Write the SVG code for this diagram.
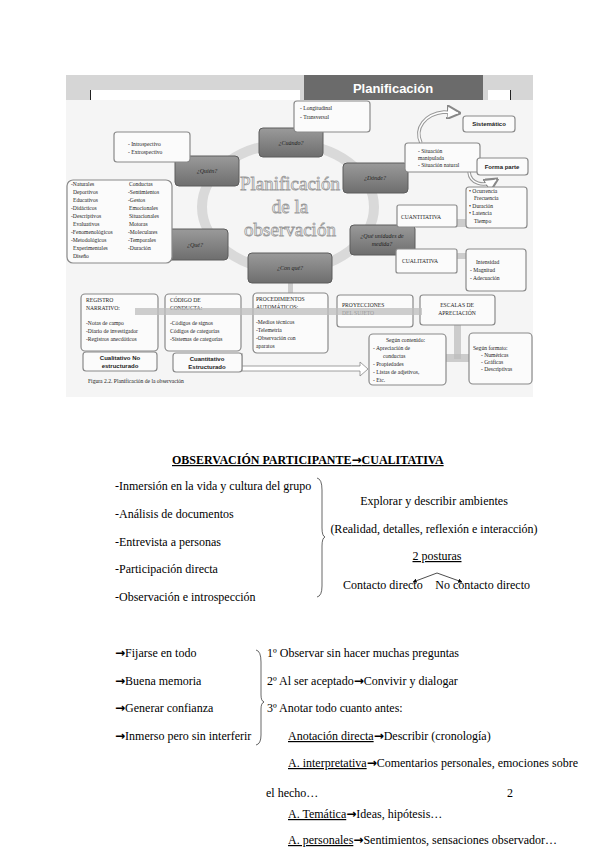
<svg xmlns="http://www.w3.org/2000/svg" width="599" height="848" viewBox="0 0 599 848">
<defs>
<linearGradient id="gq" x1="0" y1="0" x2="0" y2="1">
<stop offset="0" stop-color="#9a9a9a"/><stop offset="1" stop-color="#6e6e6e"/>
</linearGradient>
<marker id="ah" viewBox="0 0 10 10" refX="9" refY="5" markerWidth="6" markerHeight="6" orient="auto"><path d="M0,0 L10,5 L0,10 z" fill="#000"/></marker>
<marker id="ch" viewBox="0 0 10 10" refX="8" refY="5" markerWidth="4" markerHeight="4" orient="auto"><path d="M0,0 L10,5 L0,10 z" fill="#fff" stroke="#888" stroke-width="1.5"/></marker>
</defs>
<style>
.q{fill:url(#gq);stroke:#5c5c5c;stroke-width:1}
.b{fill:#fbfbfb;stroke:#8a8a8a;stroke-width:1.2}
.t{font-family:"Liberation Serif",serif;font-size:5.6px;fill:#222}
.qt{font-family:"Liberation Serif",serif;font-size:6px;font-style:italic;fill:#222;text-anchor:middle}
.s{font-family:"Liberation Sans",sans-serif;font-size:6px;font-weight:bold;fill:#222;text-anchor:middle}
.bar{fill:#bdbdbd;opacity:0.75}
.m{font-family:"Liberation Serif",serif;font-size:12px;fill:#000}
.u{text-decoration:underline}
.ar{font-family:"DejaVu Sans",sans-serif;font-weight:bold;font-size:12px}
</style>
<rect width="599" height="848" fill="#fff"/>
<g id="figure">
<rect x="66" y="100" width="467" height="297" fill="#f5f5f5"/>
<rect x="66" y="75" width="467" height="25" fill="#d6d6d6"/>
<rect x="90" y="90" width="210" height="10" fill="#fff"/>
<line x1="90.5" y1="90" x2="90.5" y2="100" stroke="#222" stroke-width="1"/>
<rect x="488" y="90" width="22" height="10" fill="#fff"/>
<line x1="510.5" y1="90" x2="510.5" y2="100" stroke="#222" stroke-width="1"/>
<rect x="304" y="75" width="179" height="25" fill="#6b6b6b"/>
<text x="393" y="93" font-family="Liberation Sans,sans-serif" font-size="13" font-weight="bold" fill="#fff" text-anchor="middle">Planificación</text>
<ellipse cx="288" cy="207" rx="86" ry="63" fill="none" stroke="#d9d9d9" stroke-width="10"/>
<g font-family="Liberation Serif,serif" font-size="19" fill="#fff" stroke="#9a9a9a" stroke-width="0.8" text-anchor="middle">
<text x="290" y="190">Planificación</text>
<text x="290" y="213">de la</text>
<text x="290" y="236">observación</text>
</g>
</g>
<g id="connectors">
<path d="M421,143 C414,128 425,114 444,112 L458,113" fill="none" stroke="#999" stroke-width="3.5" marker-end="url(#ch)"/>
<path d="M421,143 C414,128 425,114 444,112 L458,113" fill="none" stroke="#fff" stroke-width="1.5"/>
<path d="M469,172 C470,183 483,188 496,180" fill="none" stroke="#999" stroke-width="3.5" marker-end="url(#ch)"/>
<path d="M469,172 C470,183 483,188 496,180" fill="none" stroke="#fff" stroke-width="1.5"/>
<rect class="bar" x="450" y="219" width="23" height="8"/>
<rect class="bar" x="450" y="253" width="23" height="6"/>
<rect class="bar" x="288" y="283" width="5" height="11"/>
<rect class="bar" x="454" y="325" width="7" height="34"/>
<rect class="bar" x="436" y="354" width="49" height="8"/>
<path d="M242,366 H360 V362 L368,369 L360,376 V371 H242" fill="#fff" stroke="#888" stroke-width="0.8"/>
<line x1="242" y1="353" x2="242" y2="371" stroke="#888" stroke-width="0.8"/>
<path d="M437,573 L413,582" fill="none" stroke="#000" stroke-width="0.7" marker-end="url(#ah)"/>
<path d="M437,573 L462,582" fill="none" stroke="#000" stroke-width="0.7" marker-end="url(#ah)"/>
</g>
<g id="n-cuando"><rect class="q" x="259" y="128" width="64" height="29" rx="4"/><text class="qt" x="291" y="145">¿Cuándo?</text></g>
<g id="n-quien"><rect class="q" x="175" y="156" width="64" height="30" rx="4"/><text class="qt" x="207" y="173">¿Quién?</text></g>
<g id="n-donde"><rect class="q" x="343" y="163" width="65" height="30" rx="4"/><text class="qt" x="375" y="180">¿Dónde?</text></g>
<g id="n-que"><rect class="q" x="163" y="229" width="65" height="31" rx="4"/><text class="qt" x="195" y="247">¿Qué?</text></g>
<g id="n-conque"><rect class="q" x="248" y="253" width="84" height="30" rx="4"/><text class="qt" x="290" y="270">¿Con qué?</text></g>
<g id="n-unidades"><rect class="q" x="350" y="225" width="65" height="30" rx="4"/><text class="qt" x="382" y="238">¿Qué unidades de</text><text class="qt" x="382" y="246">medida?</text></g>
<g id="n-long"><rect class="b" x="294" y="101" width="76" height="31" rx="3"/><text class="t" x="300" y="110">- Longitudinal</text><text class="t" x="300" y="119">- Transversal</text></g>
<g id="n-intro"><rect class="b" x="114" y="132" width="76" height="30" rx="3"/><text class="t" x="128" y="146">- Introspectivo</text><text class="t" x="128" y="154">- Extrospectivo</text></g>
<g id="n-tipos"><rect class="b" x="67" y="180" width="105" height="83" rx="6"/>
<text class="t" x="71" y="186">-Naturales</text><text class="t" x="73" y="194">Deportivos</text><text class="t" x="73" y="202">Educativos</text><text class="t" x="71" y="210">-Didácticos</text><text class="t" x="71" y="218">-Descriptivos</text><text class="t" x="73" y="226">Evaluativos</text><text class="t" x="71" y="234">-Fenomenológicos</text><text class="t" x="71" y="242">-Metodológicos</text><text class="t" x="73" y="250">Experimentales</text><text class="t" x="73" y="258">Diseño</text>
<text class="t" x="129" y="186">Conductas</text><text class="t" x="128" y="194">-Sentimientos</text><text class="t" x="128" y="202">-Gestos</text><text class="t" x="129" y="210">Emocionales</text><text class="t" x="129" y="218">Situacionales</text><text class="t" x="129" y="226">Motoras</text><text class="t" x="128" y="234">-Moleculares</text><text class="t" x="128" y="242">-Temporales</text><text class="t" x="128" y="250">-Duración</text></g>
<g id="n-sist"><rect class="b" x="463" y="116" width="52" height="16" rx="3"/><text class="s" x="489" y="126">Sistemático</text></g>
<g id="n-situ"><rect class="b" x="405" y="143" width="75" height="29" rx="3"/><text class="t" x="418" y="153">- Situación</text><text class="t" x="418" y="160">manipulada</text><text class="t" x="418" y="167">- Situación natural</text></g>
<g id="n-forma"><rect class="b" x="477" y="158" width="51" height="17" rx="3"/><text class="s" x="502" y="169">Forma parte</text></g>
<g id="n-ocur"><rect class="b" x="466" y="187" width="61" height="41" rx="3"/><text class="t" x="469" y="193">• Ocurrencia</text><text class="t" x="474" y="200">Frecuencia</text><text class="t" x="469" y="208">• Duración</text><text class="t" x="469" y="215">• Latencia</text><text class="t" x="474" y="223">Tiempo</text></g>
<g id="n-cuanti"><rect class="b" x="397" y="205" width="60" height="22" rx="2"/><text class="t" x="401" y="219" font-size="6.5">CUANTITATIVA</text></g>
<g id="n-cuali"><rect class="b" x="396" y="249" width="61" height="24" rx="2"/><text class="t" x="402" y="263" font-size="6.5">CUALITATIVA</text></g>
<g id="n-inten"><rect class="b" x="466" y="249" width="60" height="42" rx="3"/><text class="t" x="476" y="264">Intensidad</text><text class="t" x="470" y="272">- Magnitud</text><text class="t" x="470" y="280">- Adecuación</text></g>
<g id="n-reg"><rect class="b" x="81" y="294" width="77" height="57" rx="4"/><text class="t" x="86" y="302">REGISTRO</text><text class="t" x="86" y="310">NARRATIVO:</text><text class="t" x="86" y="325">-Notas de campo</text><text class="t" x="86" y="333">-Diario de investigador</text><text class="t" x="86" y="341">-Registros anecdóticos</text></g>
<g id="n-cual"><rect class="b" x="83" y="352" width="74" height="19" rx="3"/><text class="s" x="120" y="360">Cualitativo No</text><text class="s" x="120" y="368">estructurado</text></g>
<g id="n-cod"><rect class="b" x="165" y="294" width="76" height="57" rx="4"/><text class="t" x="170" y="302">CÓDIGO DE</text><text class="t" x="170" y="310">CONDUCTA:</text><text class="t" x="170" y="325">-Códigos de signos</text><text class="t" x="170" y="333">Códigos de categorías</text><text class="t" x="170" y="341">-Sistemas de categorías</text></g>
<g id="n-cuant"><rect class="b" x="173" y="353" width="69" height="19" rx="3"/><text class="s" x="207" y="361">Cuantitativo</text><text class="s" x="207" y="369">Estructurado</text></g>
<g id="n-proc"><rect class="b" x="253" y="293" width="75" height="60" rx="4"/><text class="t" x="256" y="301">PROCEDIMIENTOS</text><text class="t" x="256" y="309">AUTOMÁTICOS:</text><text class="t" x="256" y="324">-Medios técnicos</text><text class="t" x="256" y="332">-Telemetría</text><text class="t" x="256" y="340">-Observación con</text><text class="t" x="256" y="348">aparatos</text></g>
<g id="n-proy"><rect class="b" x="337" y="295" width="76" height="32" rx="3"/><text class="t" x="342" y="307">PROYECCIONES</text><text class="t" x="342" y="315">DEL SUJETO</text></g>
<g id="n-esc"><rect class="b" x="420" y="295" width="75" height="30" rx="3"/><text class="t" x="457" y="307" text-anchor="middle">ESCALAS DE</text><text class="t" x="457" y="315" text-anchor="middle">APRECIACIÓN</text></g>
<g id="n-cont"><rect class="b" x="369" y="334" width="77" height="51" rx="4"/><text class="t" x="386" y="342">Según contenido:</text><text class="t" x="373" y="350">- Apreciación de</text><text class="t" x="383" y="358">conductas</text><text class="t" x="373" y="366">- Propiedades</text><text class="t" x="373" y="374">- Listas de adjetivos,</text><text class="t" x="373" y="382">- Etc.</text></g>
<g id="n-form"><rect class="b" x="469" y="333" width="63" height="51" rx="4"/><text class="t" x="473" y="350">Según formato:</text><text class="t" x="481" y="357">- Numéricas</text><text class="t" x="481" y="364">- Gráficas</text><text class="t" x="481" y="371">- Descriptivas</text></g>
<rect class="bar" x="135" y="308" width="287" height="7"/>
<text class="t" x="88" y="383">Figura 2.2. Planificación de la observación</text>
<g id="text-section1">
<text class="m u" x="172" y="464" font-weight="bold">OBSERVACIÓN PARTICIPANTE<tspan class="ar">→</tspan>CUALITATIVA</text>
<text class="m" x="115" y="490">-Inmersión en la vida y cultura del grupo</text>
<text class="m" x="115" y="518">-Análisis de documentos</text>
<text class="m" x="115" y="546">-Entrevista a personas</text>
<text class="m" x="115" y="573">-Participación directa</text>
<text class="m" x="115" y="601">-Observación e introspección</text>
<path d="M317,478 Q322,479 322,490 L322,528 Q322,536 325,537 Q322,538 322,546 L322,586 Q322,596 317,597" fill="none" stroke="#000" stroke-width="0.6"/>
<text class="m" x="434" y="505" text-anchor="middle">Explorar y describir ambientes</text>
<text class="m" x="434" y="533" text-anchor="middle">(Realidad, detalles, reflexión e interacción)</text>
<text class="m u" x="437" y="560" text-anchor="middle">2 posturas</text>
<text class="m" x="343" y="589">Contacto directo</text>
<text class="m" x="530" y="589" text-anchor="end">No contacto directo</text>
</g>
<g id="text-section2">
<text class="m" x="115" y="657"><tspan class="ar">→</tspan>Fijarse en todo</text>
<text class="m" x="115" y="685"><tspan class="ar">→</tspan>Buena memoria</text>
<text class="m" x="115" y="712"><tspan class="ar">→</tspan>Generar confianza</text>
<text class="m" x="115" y="740"><tspan class="ar">→</tspan>Inmerso pero sin interferir</text>
<path d="M256,650 Q261,651 261,662 L261,695 Q261,701 264,702 Q261,703 261,709 L261,735 Q261,744 256,745" fill="none" stroke="#000" stroke-width="0.6"/>
<text class="m" x="267" y="657">1º Observar sin hacer muchas preguntas</text>
<text class="m" x="267" y="685">2º Al ser aceptado<tspan class="ar">→</tspan>Convivir y dialogar</text>
<text class="m" x="267" y="712">3º Anotar todo cuanto antes:</text>
<text class="m" x="288" y="740"><tspan class="u">Anotación directa</tspan><tspan class="ar">→</tspan>Describir (cronología)</text>
<text class="m" x="288" y="767"><tspan class="u">A. interpretativa</tspan><tspan class="ar">→</tspan>Comentarios personales, emociones sobre</text>
<text class="m" x="266" y="797">el hecho…</text>
<text class="m" x="507" y="797">2</text>
<text class="m" x="288" y="818"><tspan class="u">A. Temática</tspan><tspan class="ar">→</tspan>Ideas, hipótesis…</text>
<text class="m" x="288" y="844"><tspan class="u">A. personales</tspan><tspan class="ar">→</tspan>Sentimientos, sensaciones observador…</text>
</g>
</svg>
